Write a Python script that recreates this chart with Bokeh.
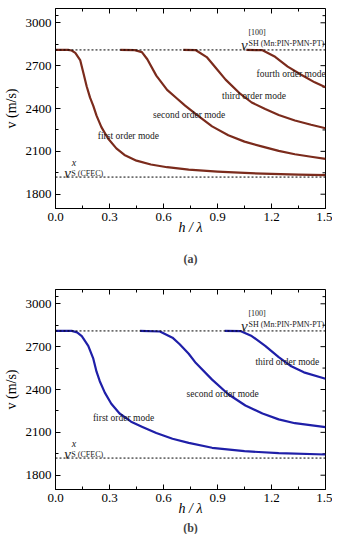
import math
from bokeh.plotting import figure
from bokeh.models import FixedTicker, Label, Span, Title, PrintfTickFormatter, Range1d
from bokeh.layouts import column
from bokeh.embed import file_html
from bokeh.resources import INLINE

# ---------------- data ----------------
V_SH = 2810   # v_SH [100] (Mn:PIN-PMN-PT)
V_S = 1920    # v_S^x (CFEC)

# (a) modes
a1_x = [0.0, 0.07, 0.09, 0.11, 0.137, 0.155, 0.173, 0.192, 0.21, 0.228, 0.255, 0.292, 0.338, 0.383, 0.45, 0.53, 0.62, 0.74, 0.9, 1.05, 1.2, 1.35, 1.5]
a1_v = [2810, 2810, 2806, 2789, 2739, 2648, 2556, 2476, 2419, 2350, 2270, 2190, 2121, 2075, 2035, 2008, 1989, 1972, 1958, 1949, 1942, 1937, 1933]
a2_x = [0.36, 0.44, 0.48, 0.51, 0.56, 0.62, 0.67, 0.72, 0.78, 0.87, 0.96, 1.05, 1.15, 1.24, 1.33, 1.42, 1.5]
a2_v = [2810, 2809, 2795, 2745, 2630, 2530, 2475, 2420, 2360, 2275, 2213, 2168, 2133, 2103, 2080, 2062, 2048]
a3_x = [0.71, 0.78, 0.84, 0.89, 0.945, 1.02, 1.09, 1.165, 1.24, 1.33, 1.42, 1.5]
a3_v = [2810, 2808, 2760, 2685, 2602, 2510, 2442, 2396, 2355, 2316, 2286, 2262]
a4_x = [1.06, 1.15, 1.22, 1.29, 1.365, 1.44, 1.5]
a4_v = [2810, 2808, 2762, 2693, 2636, 2583, 2548]

# (b) modes
b1_x = [0.0, 0.09, 0.12, 0.146, 0.182, 0.21, 0.228, 0.246, 0.274, 0.31, 0.356, 0.42, 0.483, 0.56, 0.65, 0.74, 0.87, 1.05, 1.24, 1.5]
b1_v = [2810, 2810, 2800, 2774, 2706, 2616, 2525, 2458, 2378, 2300, 2232, 2175, 2138, 2095, 2055, 2026, 1992, 1968, 1955, 1945]
b2_x = [0.47, 0.58, 0.65, 0.69, 0.74, 0.78, 0.87, 0.96, 1.055, 1.15, 1.24, 1.33, 1.5]
b2_v = [2810, 2806, 2763, 2717, 2650, 2585, 2469, 2367, 2288, 2232, 2191, 2164, 2137]
b3_x = [0.94, 1.03, 1.09, 1.165, 1.24, 1.31, 1.38, 1.5]
b3_v = [2810, 2808, 2774, 2706, 2627, 2562, 2520, 2475]

x_ticks = [0.0, 0.3, 0.6, 0.9, 1.2, 1.5]
x_minor = [0.15, 0.45, 0.75, 1.05, 1.35]
y_ticks = [1800, 2100, 2400, 2700, 3000]
y_minor = [1950, 2250, 2550, 2850, 3050]

X_MIN, X_MAX = 0.0, 1.5
Y_MIN, Y_MAX = 1700, 3100

FONT = "'Liberation Serif', 'Times New Roman', serif"
TXT = "#1a1a1a"


def style_axis(ax):
    ax.axis_line_color = "black"
    ax.major_tick_in = 5
    ax.major_tick_out = 0
    ax.minor_tick_in = 3
    ax.minor_tick_out = 0
    ax.major_tick_line_color = "black"
    ax.minor_tick_line_color = "black"
    ax.major_label_text_font = FONT
    ax.major_label_text_color = "black"
    ax.major_label_text_font_size = "13px"
    ax.major_label_standoff = 4
    ax.axis_label_text_font = FONT
    ax.axis_label_text_color = "black"
    ax.axis_label_text_font_size = "14px"


def mirror_ticks(p):
    # inward ticks on the top and right edges of the frame
    p.scatter(x_ticks, [Y_MAX] * len(x_ticks), marker="dash", angle=math.pi / 2, size=10,
              line_color="black", line_width=1)
    p.scatter(x_minor, [Y_MAX] * len(x_minor), marker="dash", angle=math.pi / 2, size=6,
              line_color="black", line_width=1)
    p.scatter([X_MAX] * len(y_ticks), y_ticks, marker="dash", size=10,
              line_color="black", line_width=1)
    p.scatter([X_MAX] * len(y_minor), y_minor, marker="dash", size=6,
              line_color="black", line_width=1)


def make_fig(height, top, bottom, tag, curves, color, mode_labels, tag_standoff):
    p = figure(width=332, height=height, output_backend="svg", toolbar_location=None,
               x_range=Range1d(X_MIN, X_MAX), y_range=Range1d(Y_MIN, Y_MAX),
               min_border_left=54, min_border_right=7, min_border_top=top, min_border_bottom=bottom)
    p.background_fill_color = "white"
    p.border_fill_color = "white"
    p.outline_line_color = "black"
    p.outline_line_width = 1
    p.grid.visible = False

    p.xaxis.ticker = FixedTicker(ticks=x_ticks, minor_ticks=x_minor)
    p.yaxis.ticker = FixedTicker(ticks=y_ticks, minor_ticks=y_minor)
    p.xaxis.formatter = PrintfTickFormatter(format="%.1f")
    for ax in p.xaxis + p.yaxis:
        style_axis(ax)
    p.xaxis.axis_label = "h / λ"
    p.xaxis.axis_label_text_font_style = "italic"
    p.xaxis.axis_label_standoff = -4
    p.yaxis.axis_label = "v (m/s)"
    p.yaxis.axis_label_text_font_style = "normal"
    p.yaxis.axis_label_standoff = 4

    mirror_ticks(p)

    for loc in (V_SH, V_S):
        p.add_layout(Span(location=loc, dimension="width", line_color="black",
                          line_width=1, line_dash="2 2"))

    for xs, vs in curves:
        p.line(xs, vs, line_color=color, line_width=2.2, line_join="round")

    for (lx, ly, txt) in mode_labels:
        p.add_layout(Label(x=lx, y=ly, text=txt, text_font=FONT, text_font_size="9.5px",
                           text_baseline="middle", text_color=TXT))

    # v_SH label
    p.add_layout(Label(x=1.03, y=V_SH + 35, text="v", text_font=FONT, text_font_style="italic",
                       text_font_size="15px", text_baseline="alphabetic", text_color=TXT))
    p.add_layout(Label(x=1.072, y=V_SH + 125, text="[100]", text_font=FONT,
                       text_font_size="8px", text_baseline="middle", text_color=TXT))
    p.add_layout(Label(x=1.072, y=V_SH + 42, text="SH (Mn:PIN-PMN-PT)", text_font=FONT,
                       text_font_size="8px", text_baseline="middle", text_color=TXT))
    # v_S label
    p.add_layout(Label(x=0.048, y=V_S + 28, text="v", text_font=FONT, text_font_style="italic",
                       text_font_size="15px", text_baseline="alphabetic", text_color=TXT))
    p.add_layout(Label(x=0.09, y=V_S + 105, text="x", text_font=FONT, text_font_style="italic",
                       text_font_size="10px", text_baseline="middle", text_color=TXT))
    p.add_layout(Label(x=0.088, y=V_S + 25, text="S (CFEC)", text_font=FONT,
                       text_font_size="8px", text_baseline="middle", text_color=TXT))

    t = Title(text=tag, align="center", text_font=FONT, text_font_size="12px",
              text_font_style="bold", standoff=tag_standoff)
    p.add_layout(t, "below")
    return p


pa = make_fig(278, 8, 66, "(a)", [(a1_x, a1_v), (a2_x, a2_v), (a3_x, a3_v), (a4_x, a4_v)], "#7b2b1c",
              [(1.117, 2643, "fourth order mode"), (0.925, 2485, "third order mode"),
               (0.542, 2355, "second order mode"), (0.235, 2210, "first order mode")], 25)
pb = make_fig(256, 11, 42, "(b)", [(b1_x, b1_v), (b2_x, b2_v), (b3_x, b3_v)], "#1f1fa8",
              [(1.111, 2593, "third order mode"), (0.728, 2369, "second order mode"),
               (0.208, 2200, "first order mode")], 0)

layout = column(pa, pb, spacing=0)
open("out.html", "w").write(file_html(layout, INLINE))
